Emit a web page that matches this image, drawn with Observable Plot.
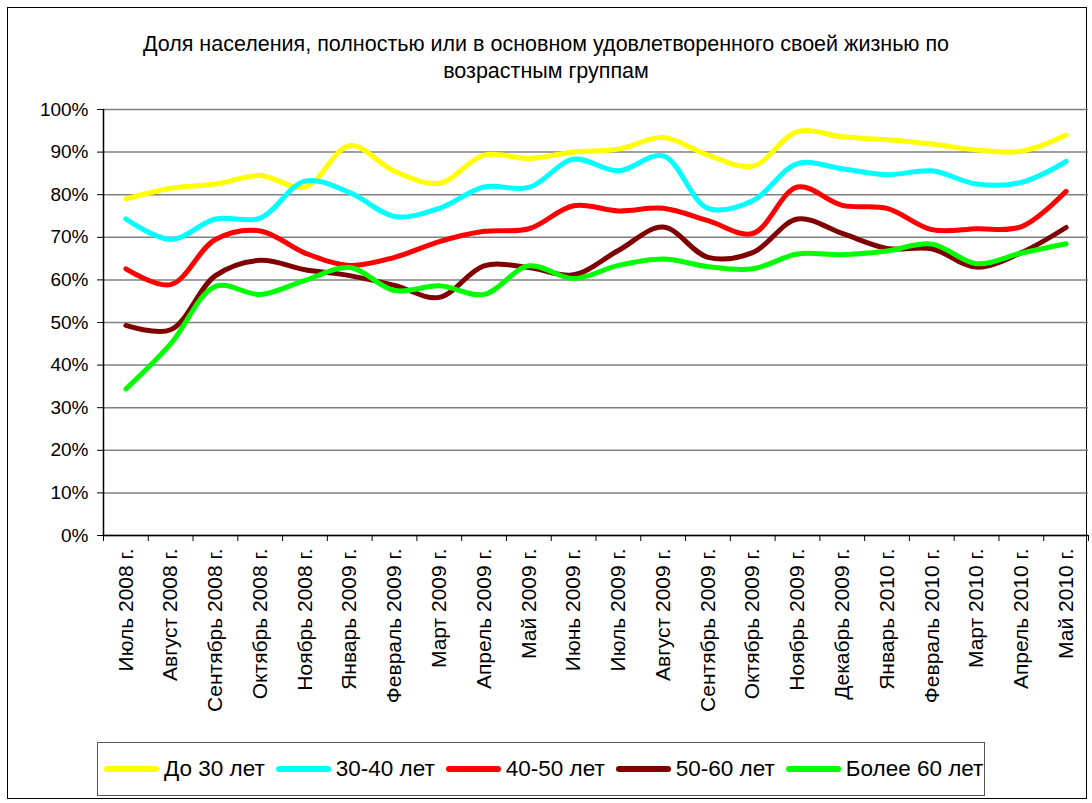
<!DOCTYPE html>
<html><head><meta charset="utf-8">
<script src="https://cdn.jsdelivr.net/npm/d3@7"></script>
<script src="https://cdn.jsdelivr.net/npm/@observablehq/plot@0.6"></script>
<style>
body{margin:0;background:#fff;}
#wrap{position:relative;width:1092px;height:803px;overflow:hidden;font-family:"Liberation Sans",Arial,sans-serif;color:#000;background:#fff;}
#frame{position:absolute;left:7px;top:7px;width:1080px;height:792px;border:1.5px solid #000;box-sizing:border-box;}
#title{position:absolute;left:0;top:31px;width:1092px;text-align:center;font-size:21.5px;line-height:27px;}
#chart{position:absolute;left:0;top:0;}
#legend{position:absolute;left:97px;top:742px;width:888px;height:54px;border:1.5px solid #555;box-sizing:border-box;display:flex;align-items:center;padding:0 0 0 6px;font-size:22.5px;white-space:nowrap;}
.item{display:flex;align-items:center;margin-right:11px;}
.sw{width:55px;height:6px;border-radius:3px;margin-right:5px;}
</style></head>
<body>
<div id="wrap">
  <div id="frame"></div>
  <div id="title">Доля населения, полностью или в основном удовлетворенного своей жизнью по<br>возрастным группам</div>
  <div id="chart"></div>
  <div id="legend"></div>
</div>
<script>
const categories = ["Июль 2008 г.", "Август 2008 г.", "Сентябрь 2008 г.", "Октябрь 2008 г.", "Ноябрь 2008 г.", "Январь 2009 г.", "Февраль 2009 г.", "Март 2009 г.", "Апрель 2009 г.", "Май 2009 г.", "Июнь 2009 г.", "Июль 2009 г.", "Август 2009 г.", "Сентябрь 2009 г.", "Октябрь 2009 г.", "Ноябрь 2009 г.", "Декабрь 2009 г.", "Январь 2010 г.", "Февраль 2010 г.", "Март 2010 г.", "Апрель 2010 г.", "Май 2010 г."];

const seriesNames = ["До 30 лет", "30-40 лет", "40-50 лет", "50-60 лет", "Более 60 лет"];
const seriesColors = ["#FFFF00", "#00FFFF", "#FF0000", "#800000", "#00FF00"];

const under30 = [79.0, 81.5, 82.5, 84.5, 81.8, 91.5, 85.5, 82.7, 89.3, 88.5, 90.0, 90.7, 93.4, 89.3, 86.7, 94.8, 93.6, 92.9, 91.9, 90.5, 90.2, 94.0];
const age30_40 = [74.3, 69.5, 74.3, 74.5, 83.2, 80.5, 74.9, 76.8, 81.8, 81.7, 88.3, 85.6, 89.1, 76.8, 78.6, 87.3, 86.1, 84.7, 85.6, 82.5, 82.9, 87.8];
const age40_50 = [62.6, 58.9, 69.5, 71.5, 66.3, 63.4, 65.3, 69.0, 71.4, 72.0, 77.4, 76.2, 76.8, 73.9, 70.9, 81.8, 77.5, 76.8, 71.8, 72.0, 72.5, 80.8];
const age50_60 = [49.3, 48.3, 61.0, 64.6, 62.4, 61.0, 58.7, 55.9, 63.3, 62.9, 61.2, 66.9, 72.4, 65.3, 66.4, 74.3, 70.9, 67.4, 67.3, 63.0, 66.4, 72.3];
const over60 = [34.4, 45.0, 58.5, 56.6, 59.9, 62.9, 57.5, 58.6, 56.6, 63.3, 60.3, 63.4, 64.9, 63.1, 62.6, 66.1, 65.9, 66.8, 68.4, 63.8, 66.3, 68.5];

const yTicks = [0, 0.1, 0.2, 0.3, 0.4, 0.5, 0.6, 0.7, 0.8, 0.9, 1.0];

const allValues = [under30, age30_40, age40_50, age50_60, over60];
const series = seriesNames.map((name, k) => ({
  name, color: seriesColors[k],
  data: allValues[k].map((v, i) => ({i: i + 0.5, v: v / 100}))
}));
const centers = categories.map((c, i) => ({i: i + 0.5, label: c}));
const bounds = d3.range(0, categories.length + 1);

const chart = Plot.plot({
  width: 1092, height: 740,
  marginLeft: 103, marginRight: 4, marginTop: 109, marginBottom: 205,
  style: {fontFamily: '"Liberation Sans", Arial, sans-serif', background: "transparent", color: "#000"},
  x: {domain: [0, categories.length], axis: null},
  y: {domain: [0, 1], axis: null},
  marks: [
    Plot.gridY(yTicks, {stroke: "#808080", strokeOpacity: 1, strokeWidth: 1.5}),
    Plot.axisY(yTicks, {tickFormat: d3.format(".0%"), tickSize: 6, tickPadding: 9, fontSize: 19, stroke: "#000", label: null}),
    Plot.axisX(bounds, {tickSize: 6, tickFormat: () => "", stroke: "#000", label: null}),
    Plot.ruleX([0], {stroke: "#000", strokeWidth: 1.5}),
    Plot.ruleY([0], {stroke: "#000", strokeWidth: 1.5}),
    Plot.text(centers, {x: "i", y: () => 0, text: "label", rotate: -90, textAnchor: "end", dy: 13, fontSize: 21, fill: "#000"}),
    ...series.map(s => Plot.line(s.data, {x: "i", y: "v", stroke: s.color, strokeWidth: 5, curve: "catmull-rom", strokeLinejoin: "round", strokeLinecap: "round"}))
  ]
});
document.getElementById("chart").appendChild(chart);

const legend = document.getElementById("legend");
series.forEach(s => {
  const it = document.createElement("div");
  it.className = "item";
  const sw = document.createElement("div");
  sw.className = "sw";
  sw.style.background = s.color;
  const tx = document.createElement("span");
  tx.textContent = s.name;
  it.appendChild(sw); it.appendChild(tx);
  legend.appendChild(it);
});
</script>
</body></html>
